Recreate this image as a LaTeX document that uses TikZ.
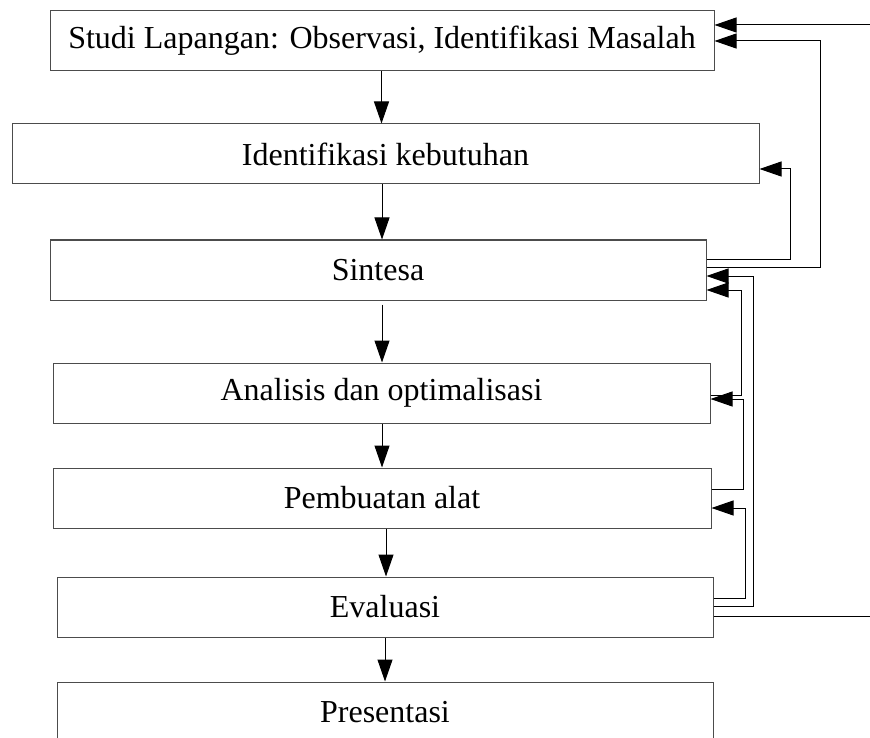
\documentclass[tikz,border=0pt]{standalone}
\usepackage{fontspec}
\setmainfont{Liberation Serif}
\usetikzlibrary{arrows.meta}
\begin{document}
\begin{tikzpicture}[x=1pt,y=-1pt,
  box/.style={draw=black!70,line width=1pt,rectangle,inner sep=0pt,minimum height=60pt,font=\fontsize{32}{38}\selectfont},
  arr/.style={line width=1pt,-{Triangle[length=22pt,width=15pt]}},
  ln/.style={line width=1pt}]
\useasboundingbox (0,0) rectangle (870,738);
\node[box,minimum width=664pt] (b1) at (382,41) {Studi Lapangan: Observasi, Identifikasi Masalah};
\node[box,minimum width=747pt] (b2) at (385.5,154) {Identifikasi kebutuhan};
\node[box,minimum width=656pt] (sin) at (378,270) {Sintesa};
\node[box,minimum width=657pt] (ana) at (381.5,393) {Analisis dan optimalisasi};
\node[box,minimum width=658pt] (pem) at (382,498) {Pembuatan alat};
\node[box,minimum width=656pt] (eva) at (385,607) {Evaluasi};
\node[box,minimum width=656pt] (pre) at (385,712) {Presentasi};
% main flow
\draw[arr] ([xshift=-0.5pt]b1.south) -- ([xshift=-0.5pt]b1.south |- b2.north);
\draw[arr] ([xshift=-3.5pt]b2.south) -- ([xshift=-3.5pt]b2.south |- sin.north);
\draw[arr] ([xshift=4pt,yshift=-4pt]sin.south) -- ([xshift=4pt]sin.south |- ana.north);
\draw[arr] ([xshift=0.5pt]ana.south) -- ([xshift=0.5pt]ana.south |- pem.north);
\draw[arr] ([xshift=4pt]pem.south) -- ([xshift=4pt]pem.south |- eva.north);
\draw[arr] (eva.south) -- (eva.south |- pre.north);
% feedback loops
\draw[arr] ([yshift=11pt]sin.east) -| (790,169) -- ([yshift=-15pt]b2.east);
\draw[arr] ([yshift=3pt]sin.east) -| (820,41) -- (b1.east);
\draw[arr] ([yshift=-2pt]ana.east) -| (741,290) -- ([yshift=-20pt]sin.east);
\draw[arr] ([yshift=1pt]eva.east) -| (753,276) -- ([yshift=-6pt]sin.east);
\draw[arr] ([yshift=9pt]pem.east) -| (743,399) -- ([yshift=-6pt]ana.east);
\draw[arr] ([yshift=9pt]eva.east) -| (745,508) -- ([yshift=-10pt]pem.east);
\coordinate (outR) at (870,616);
\coordinate (inR) at (870,25);
\draw[ln] ([yshift=-9pt]eva.east) -- (outR);
\draw[arr] (inR) -- ([yshift=16pt]b1.east);
\end{tikzpicture}
\end{document}
